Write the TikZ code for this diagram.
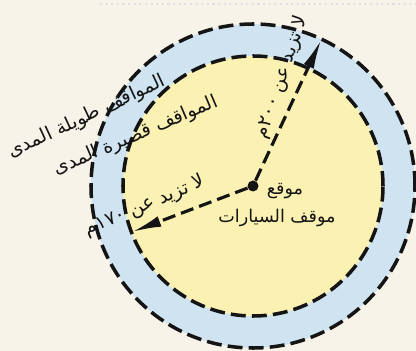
\documentclass[tikz,border=0pt]{standalone}
\usepackage{fontspec}
\usetikzlibrary{arrows.meta}
\TeXXeTstate=1
\newfontfamily\arabicfont[Script=Arabic]{DejaVu Sans}
\definecolor{paper}{RGB}{248,243,232}
\definecolor{sky}{RGB}{207,228,240}
\definecolor{sand}{RGB}{250,241,178}
\definecolor{ink}{RGB}{20,20,20}
\tikzset{
  >={Latex[length=6mm,width=2.2mm]},
  ring/.style={draw=ink,line width=2pt,dash pattern=on 8.5pt off 3.5pt},
  reach/.style={->,draw=ink,line width=1.8pt,dash pattern=on 7.5pt off 3.5pt},
  lbl/.style={font=\arabicfont\fontsize{10.8}{12}\selectfont,text=ink,inner sep=1pt},
  place/.style={font=\arabicfont\fontsize{10}{12}\selectfont,text=ink,inner sep=1pt},
}

\begin{document}
\begin{tikzpicture}
  \path[use as bounding box,fill=paper] (-5.06,-3.30) rectangle (3.26,3.72);
  \clip (-5.06,-3.30) rectangle (3.26,3.72);
  \draw[gray!25,dotted,line width=1.2pt] (-3.06,3.64) -- (3.26,3.64);
  % zones
  \fill[sky] (0,0) circle (3.24);
  \fill[sand] (0,0) circle (2.6);
  \draw[ring] (0,0) circle (3.24);
  \draw[ring] (0,0) circle (2.6);
  % parking site and walking distances
  \node[circle,fill=ink,inner sep=0pt,minimum size=2.2mm] (c) at (0,0) {};
  \coordinate (far) at (65:3.24);
  \coordinate (near) at (200.8:2.6);
  \draw[reach] (c) -- (far);
  \draw[reach] (c) -- (near);
  \node[lbl,rotate=25] (longlbl) at (-3.32,1.38) {\beginR المواقف طويلة المدى\endR};
  \node[lbl,rotate=23] (shortlbl) at (-2.34,1.0) {\beginR المواقف قصيرة المدى\endR};
  \node[lbl,rotate=23] (nearlbl) at (-2.16,-0.40) {\beginR لا تزيد عن ١٧٠م\endR};
  \node[lbl,rotate=71] (farlbl) at (0.58,2.18) {\beginR لا تزيد عن ٢٠٠م\endR};
  \node[place] (site) at (0.64,-0.1) {\beginR موقع\endR};
  \node[place] (sitename) at (0.48,-0.64) {\beginR موقف السيارات\endR};
\end{tikzpicture}
\end{document}
